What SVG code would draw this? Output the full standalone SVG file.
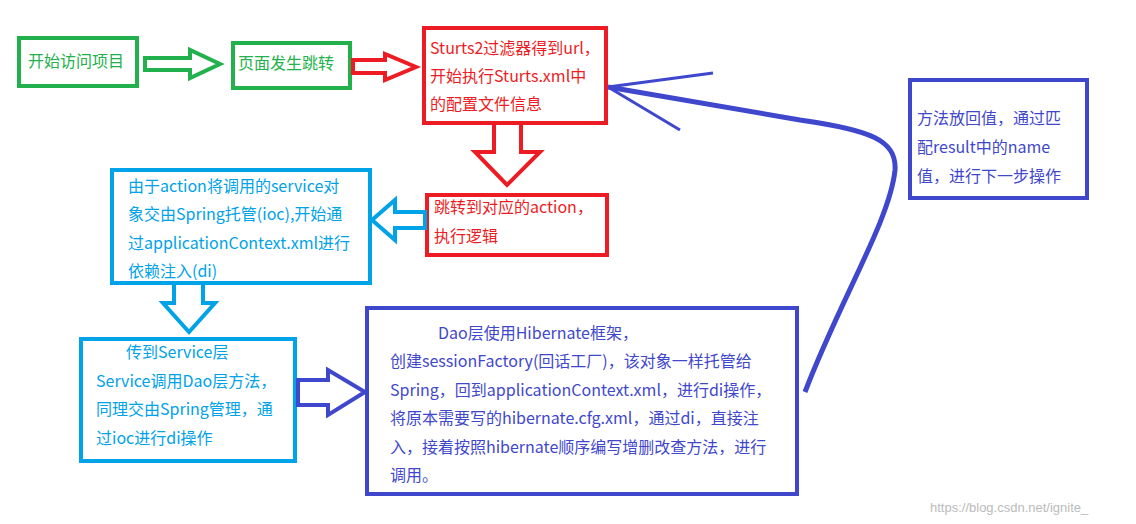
<svg xmlns="http://www.w3.org/2000/svg" width="1136" height="524" viewBox="0 0 1136 524">
<style>
text{font-family:"Microsoft YaHei","Noto Sans CJK SC",sans-serif;font-size:16px}
.g{stroke:#22b14c;fill:none;stroke-width:4}
.r{stroke:#ed1c24;fill:none;stroke-width:4}
.c{stroke:#00a2e8;fill:none;stroke-width:4}
.b{stroke:#3f48cc;fill:none;stroke-width:4}
.tg{fill:#22b14c}.tr{fill:#ed1c24}.tc{fill:#00a2e8}.tb{fill:#3f48cc}
</style>
<rect width="1136" height="524" fill="#fff"/>
<g id="n1"><rect class="g" x="19" y="38" width="118" height="48"/><text class="tg" x="28" y="67">开始访问项目</text></g>
<g id="n2"><rect class="g" x="233" y="43" width="117" height="45"/><text class="tg" x="238" y="69">页面发生跳转</text></g>
<g id="n3"><rect class="r" x="424" y="28" width="182" height="95"/>
<text class="tr" x="430" y="54">Sturts2过滤器得到url，</text><text class="tr" x="430" y="82">开始执行Sturts.xml中</text><text class="tr" x="430" y="110">的配置文件信息</text></g>
<g id="n4"><rect class="r" x="427" y="195" width="180" height="60"/>
<text class="tr" x="434" y="213">跳转到对应的action，</text><text class="tr" x="434" y="242">执行逻辑</text></g>
<g id="n5"><rect class="c" x="112" y="170" width="258" height="113"/>
<text class="tc" x="128" y="192">由于action将调用的service对</text><text class="tc" x="128" y="220">象交由Spring托管(ioc),开始通</text><text class="tc" x="128" y="249">过applicationContext.xml进行</text><text class="tc" x="128" y="277">依赖注入(di)</text></g>
<g id="n6"><rect class="c" x="81" y="339" width="214" height="122"/>
<text class="tc" x="126" y="358">传到Service层</text><text class="tc" x="96" y="387">Service调用Dao层方法，</text><text class="tc" x="96" y="415">同理交由Spring管理，通</text><text class="tc" x="96" y="444">过ioc进行di操作</text></g>
<g id="n7"><rect class="b" x="367" y="308" width="430" height="186"/>
<text class="tb" x="438" y="339">Dao层使用Hibernate框架，</text>
<text class="tb" x="390" y="367">创建sessionFactory(回话工厂)，该对象一样托管给</text>
<text class="tb" x="390" y="396">Spring，回到applicationContext.xml，进行di操作，</text>
<text class="tb" x="390" y="424">将原本需要写的hibernate.cfg.xml，通过di，直接注</text>
<text class="tb" x="390" y="453">入，接着按照hibernate顺序编写增删改查方法，进行</text>
<text class="tb" x="390" y="481">调用。</text></g>
<g id="n8"><rect class="b" x="910" y="80" width="177" height="118"/>
<text class="tb" x="917" y="124">方法放回值，通过匹</text><text class="tb" x="917" y="153">配result中的name</text><text class="tb" x="917" y="182">值，进行下一步操作</text></g>
<g id="connectors">
<polygon class="g" points="145,58 190,58 190,50 220,64 190,78 190,70 145,70"/>
<polygon class="r" points="353,60 385,60 385,54 416,67 385,80 385,73 353,73"/>
<polygon class="r" points="494,123 521,123 521,152 540,152 507,185 475,152 494,152"/>
<polygon class="c" points="425,212 425,228 395,228 395,240 372,220 395,200 395,212"/>
<polygon class="c" points="174,283 203,283 203,303 215,303 189,332 163,303 174,303"/>
<polygon class="b" points="298,380 328,380 328,370 365,392 328,415 328,405 298,405"/>
<path d="M805,392 C840,300 890,220 895,170 C897,140 870,130 800,120 L608,87" stroke="#3f48cc" stroke-width="5" fill="none"/>
<path d="M608,87 L713,73 M608,87 L680,130" stroke="#3f48cc" stroke-width="3" fill="none"/>
</g>
<text x="930" y="512" style="font-size:13px;font-family:'Liberation Sans',sans-serif" fill="#bbb">https://blog.csdn.net/ignite_</text>
</svg>
